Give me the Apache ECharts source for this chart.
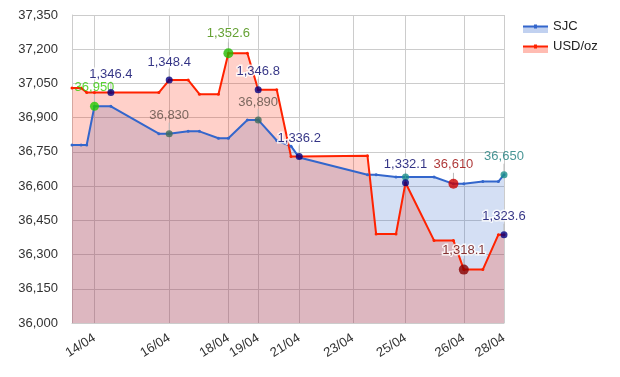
<!DOCTYPE html>
<html>
<head>
<meta charset="utf-8">
<title>SJC - USD/oz</title>
<script src="https://cdn.jsdelivr.net/npm/echarts@6/dist/echarts.min.js"></script>
<style>
  html, body { margin: 0; padding: 0; background: #fff; }
  #chart { width: 620px; height: 377px; }
</style>
</head>
<body>
<div id="chart"></div>
<script>
// position of each reading along the time line (0 = first reading, 100 = last)
const timePos = [0, 2.1, 3.4, 5.2, 9.0, 20.1, 22.5, 26.9, 29.5, 33.9, 36.2, 40.6, 43.1,
  47.4, 50.7, 52.6, 68.4, 70.4, 75.0, 77.2, 83.8, 88.3, 90.7, 95.1, 98.7, 100]
// SJC price (thousand VND / tael)
const sjc = [36780, 36780, 36780, 36950, 36950, 36830, 36830, 36840, 36840, 36810, 36810, 36890, 36890,
  36800, 36775, 36725, 36650, 36650, 36640, 36640, 36640, 36610, 36610, 36620, 36620, 36650]
// world price, drawn on the same scale as SJC
const usdOz = [37030, 37030, 37010, 37010, 37010, 37010, 37065, 37065, 37003, 37003, 37182, 37182, 37022,
  37022, 36730, 36730, 36733, 36390, 36390, 36615, 36362, 36362, 36234, 36234, 36387, 36387]

// date labels on the time line
const tickPos = [5.2, 22.5, 36.2, 43.1, 52.6, 65.0, 77.2, 90.7, 100]
const tickText = ['14/04', '16/04', '18/04', '19/04', '21/04', '23/04', '25/04', '26/04', '28/04']

// annotated readings: index into the arrays above + text
const sjcNoteIdx = [3, 6, 12, 19, 21, 25]
const sjcNoteText = ['36,950', '36,830', '36,890', '', '36,610', '36,650']
const usdNoteIdx = [4, 6, 10, 12, 15, 19, 22, 25]
const usdNoteText = ['1,346.4', '1,348.4', '1,352.6', '1,346.8', '1,336.2', '1,332.1', '1,318.1', '1,323.6']

// styles for the annotation dots
const sjcNoteStyle = [
  { dot: '#22cc00', text: '#33cc00', size: 9 },
  { dot: '#3d6b5a', text: '#5b4d44', size: 7 },
  { dot: '#3d6b5a', text: '#5b4d44', size: 7 },
  { dot: '#1a8f8a', text: '#1a7a7a', size: 7 },
  { dot: '#cc0000', text: '#990000', size: 10 },
  { dot: '#1a8f8a', text: '#1a7a7a', size: 7 }
]
const usdNoteStyle = [
  { dot: '#000080', text: '#000066', size: 7 },
  { dot: '#000080', text: '#000066', size: 7 },
  { dot: '#22bb00', text: '#3f8a00', size: 10 },
  { dot: '#000080', text: '#000066', size: 7 },
  { dot: '#000080', text: '#000066', size: 7 },
  { dot: '#000080', text: '#000066', size: 7 },
  { dot: '#880000', text: '#660000', size: 10 },
  { dot: '#000080', text: '#000066', size: 7 }
]

const FONT = '"Liberation Sans", Arial, Helvetica, sans-serif'
const BLUE = '#3366cc'
const RED = '#ff2200'
const LINE_ICON = 'path://M0,1 H11 V0 H14 V1 H25 V3 H14 V4 H11 V3 H0 Z'

function pairs(ys) {
  return timePos.map((x, i) => [x, ys[i]])
}

function notes(idx, texts, ys, styles, halo) {
  return idx.map((k, i) => ({
    value: [timePos[k], ys[k]],
    symbolSize: styles[i].size,
    itemStyle: { color: styles[i].dot },
    label: {
      show: texts[i] !== '',
      formatter: texts[i],
      color: styles[i].text,
      textBorderColor: halo ? '#fff' : 'transparent',
      textBorderWidth: halo ? 3 : 0
    }
  }))
}

// short grey stems between a dot and its label
function stems(idx, texts, ys) {
  const out = []
  idx.forEach((k, i) => {
    if (texts[i] !== '') out.push([timePos[k], ys[k]])
  })
  return out
}

function renderStem(params, api) {
  const p = api.coord([api.value(0), api.value(1)])
  return {
    type: 'line',
    shape: { x1: p[0], y1: p[1] - 3, x2: p[0], y2: p[1] - 11 },
    style: { stroke: '#bbb', lineWidth: 1 }
  }
}

const noteLabel = { position: 'top', distance: 8, fontFamily: FONT, fontSize: 13 }

const chart = echarts.init(document.getElementById('chart'))
chart.setOption({
  animation: false,
  grid: { left: 72, right: 116, top: 15, bottom: 54 },
  legend: [
    {
      // light area swatch under the line icon
      orient: 'vertical',
      left: 518,
      top: 18,
      itemWidth: 25,
      itemHeight: 7,
      itemGap: 7,
      selectedMode: false,
      icon: 'rect',
      data: [
        { name: 'SJC', itemStyle: { color: 'rgba(51,102,204,0.3)' } },
        { name: 'USD/oz', itemStyle: { color: 'rgba(255,34,0,0.3)' } }
      ],
      textStyle: { fontFamily: FONT, fontSize: 13, color: 'transparent' }
    },
    {
      orient: 'vertical',
      left: 518,
      top: 15,
      itemWidth: 25,
      itemHeight: 4,
      itemGap: 7,
      selectedMode: false,
      icon: LINE_ICON,
      data: ['SJC', 'USD/oz'],
      textStyle: { fontFamily: FONT, fontSize: 13, color: '#222' }
    }
  ],
  xAxis: {
    type: 'value',
    min: 0,
    max: 100,
    axisLine: { show: true, lineStyle: { color: '#ccc' } },
    axisTick: { show: false, customValues: tickPos },
    splitLine: { show: true, lineStyle: { color: '#ccc' } },
    axisLabel: {
      customValues: tickPos,
      rotate: 32,
      margin: 14,
      fontFamily: FONT,
      fontSize: 13,
      color: '#333',
      formatter: v => tickText[tickPos.indexOf(v)]
    }
  },
  yAxis: {
    type: 'value',
    min: 36000,
    max: 37350,
    interval: 150,
    axisLine: { show: true, lineStyle: { color: '#ccc' } },
    axisTick: { show: false },
    splitLine: { lineStyle: { color: '#ccc' } },
    axisLabel: { fontFamily: FONT, fontSize: 13, color: '#333', margin: 14 }
  },
  series: [
    {
      name: 'SJC',
      type: 'line',
      data: pairs(sjc),
      symbol: 'circle',
      symbolSize: 3,
      lineStyle: { color: BLUE, width: 2 },
      itemStyle: { color: BLUE },
      areaStyle: { color: 'rgba(51,102,204,0.3)' },
      silent: true
    },
    {
      name: 'USD/oz',
      type: 'line',
      data: pairs(usdOz),
      symbol: 'circle',
      symbolSize: 3,
      lineStyle: { color: RED, width: 2 },
      itemStyle: { color: RED },
      areaStyle: { color: 'rgba(255,34,0,0.3)' },
      silent: true
    },
    {
      type: 'custom',
      renderItem: renderStem,
      data: stems(sjcNoteIdx, sjcNoteText, sjc).concat(stems(usdNoteIdx, usdNoteText, usdOz)),
      silent: true,
      z: 4
    },
    {
      type: 'scatter',
      data: notes(sjcNoteIdx, sjcNoteText, sjc, sjcNoteStyle, false),
      silent: true,
      z: 5,
      label: noteLabel
    },
    {
      type: 'scatter',
      data: notes(usdNoteIdx, usdNoteText, usdOz, usdNoteStyle, true),
      silent: true,
      z: 6,
      label: noteLabel
    }
  ]
})
</script>
</body>
</html>
